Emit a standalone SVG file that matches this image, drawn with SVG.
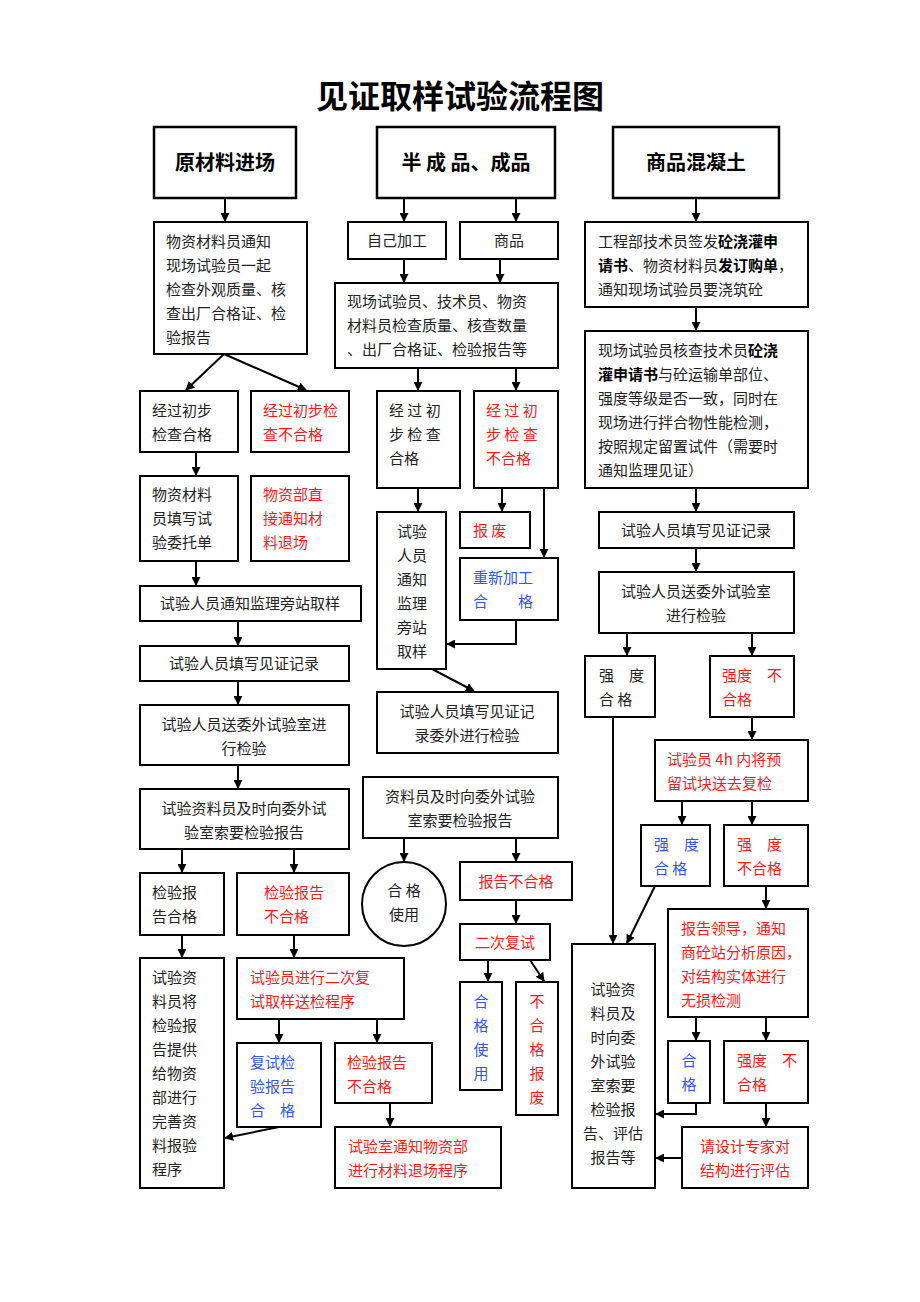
<svg xmlns="http://www.w3.org/2000/svg" width="920" height="1302" viewBox="0 0 920 1302">
<defs>
<marker id="ah" viewBox="0 0 10 10" refX="9" refY="5" markerWidth="9" markerHeight="9" markerUnits="userSpaceOnUse" orient="auto"><path d="M0,0L10,5L0,10z" fill="#000"/></marker>
<style>
rect{fill:#fff;stroke:#000;stroke-width:2}
.top{stroke-width:2.5}
text{font-family:"Noto Sans CJK SC","Noto Sans",sans-serif;font-size:15px;fill:#222}
.r{fill:#ff1a1a}.b{fill:#3355ee}
.h{font-size:20px;font-weight:bold;fill:#000}
.c line,.c path{stroke:#000;stroke-width:2;fill:none;marker-end:url(#ah)}
</style>
</defs>
<rect x="0" y="0" width="920" height="1302" style="fill:#fff;stroke:none"/>
<text x="460" y="108" text-anchor="middle" style="font-size:32px;font-weight:bold;fill:#000">见证取样试验流程图</text>

<g id="A"><rect class="top" x="154" y="127" width="142" height="71"/><text class="h" x="225" y="170" text-anchor="middle">原材料进场</text></g>
<g id="B"><rect class="top" x="377" y="127" width="178" height="71"/><text class="h" x="466" y="170" text-anchor="middle">半 成 品、成品</text></g>
<g id="C"><rect class="top" x="613" y="127" width="166" height="71"/><text class="h" x="696" y="170" text-anchor="middle">商品混凝土</text></g>

<g id="L1"><rect x="154" y="222" width="153" height="132"/><text x="166" y="247">物资材料员通知<tspan x="166" dy="24">现场试验员一起</tspan><tspan x="166" dy="24">检查外观质量、核</tspan><tspan x="166" dy="24">查出厂合格证、检</tspan><tspan x="166" dy="24">验报告</tspan></text></g>
<g id="L2a"><rect x="140" y="391" width="98" height="61"/><text x="152" y="416">经过初步<tspan x="152" dy="24">检查合格</tspan></text></g>
<g id="L2b"><rect x="251" y="391" width="98" height="61"/><text class="r" x="263" y="416">经过初步检<tspan x="263" dy="24">查不合格</tspan></text></g>
<g id="L3a"><rect x="140" y="476" width="98" height="85"/><text x="152" y="500">物资材料<tspan x="152" dy="24">员填写试</tspan><tspan x="152" dy="24">验委托单</tspan></text></g>
<g id="L3b"><rect x="251" y="476" width="98" height="85"/><text class="r" x="263" y="500">物资部直<tspan x="263" dy="24">接通知材</tspan><tspan x="263" dy="24">料退场</tspan></text></g>
<g id="L4"><rect x="140" y="586" width="221" height="35"/><text x="250" y="609" text-anchor="middle">试验人员通知监理旁站取样</text></g>
<g id="L5"><rect x="140" y="646" width="209" height="35"/><text x="244" y="669" text-anchor="middle">试验人员填写见证记录</text></g>
<g id="L6"><rect x="140" y="705" width="209" height="60"/><text x="244" y="730" text-anchor="middle">试验人员送委外试验室进<tspan x="244" dy="24">行检验</tspan></text></g>
<g id="L7"><rect x="140" y="789" width="209" height="60"/><text x="244" y="814" text-anchor="middle">试验资料员及时向委外试<tspan x="244" dy="24">验室索要检验报告</tspan></text></g>
<g id="L8a"><rect x="140" y="873" width="84" height="62"/><text x="152" y="898">检验报<tspan x="152" dy="24">告合格</tspan></text></g>
<g id="L8b"><rect x="237" y="873" width="112" height="62"/><text class="r" x="264" y="898">检验报告<tspan x="264" dy="24">不合格</tspan></text></g>
<g id="L9a"><rect x="140" y="958" width="84" height="230"/><text x="152" y="983">试验资<tspan x="152" dy="24">料员将</tspan><tspan x="152" dy="24">检验报</tspan><tspan x="152" dy="24">告提供</tspan><tspan x="152" dy="24">给物资</tspan><tspan x="152" dy="24">部进行</tspan><tspan x="152" dy="24">完善资</tspan><tspan x="152" dy="24">料报验</tspan><tspan x="152" dy="24">程序</tspan></text></g>
<g id="L9b"><rect x="237" y="958" width="167" height="61"/><text class="r" x="250" y="983">试验员进行二次复<tspan x="250" dy="24">试取样送检程序</tspan></text></g>
<g id="L10a"><rect x="237" y="1043" width="84" height="84"/><text class="b" x="250" y="1068">复试检<tspan x="250" dy="24">验报告</tspan><tspan x="250" dy="24">合　格</tspan></text></g>
<g id="L10b"><rect x="335" y="1043" width="97" height="60"/><text class="r" x="347" y="1068">检验报告<tspan x="347" dy="24">不合格</tspan></text></g>
<g id="L11"><rect x="335" y="1127" width="166" height="61"/><text class="r" x="348" y="1152">试验室通知物资部<tspan x="348" dy="24">进行材料退场程序</tspan></text></g>

<g id="M1a"><rect x="348" y="222" width="98" height="37"/><text x="397" y="246" text-anchor="middle">自己加工</text></g>
<g id="M1b"><rect x="460" y="222" width="98" height="37"/><text x="509" y="246" text-anchor="middle">商品</text></g>
<g id="M2"><rect x="335" y="283" width="223" height="85"/><text x="347" y="307">现场试验员、技术员、物资<tspan x="347" dy="24">材料员检查质量、核查数量</tspan><tspan x="347" dy="24">、出厂合格证、检验报告等</tspan></text></g>
<g id="M3a"><rect x="377" y="391" width="83" height="97"/><text x="389" y="416">经 过 初<tspan x="389" dy="24">步 检 查</tspan><tspan x="389" dy="24">合格</tspan></text></g>
<g id="M3b"><rect x="474" y="391" width="84" height="97"/><text class="r" x="486" y="416">经 过 初<tspan x="486" dy="24">步 检 查</tspan><tspan x="486" dy="24">不合格</tspan></text></g>
<g id="M4a"><rect x="377" y="512" width="69" height="157"/><text x="397" y="537">试验<tspan x="397" dy="24">人员</tspan><tspan x="397" dy="24">通知</tspan><tspan x="397" dy="24">监理</tspan><tspan x="397" dy="24">旁站</tspan><tspan x="397" dy="24">取样</tspan></text></g>
<g id="M4b"><rect x="460" y="512" width="70" height="36"/><text class="r" x="473" y="536">报 废</text></g>
<g id="M5"><rect x="460" y="558" width="98" height="62"/><text class="b" x="473" y="583">重新加工<tspan x="473" dy="24">合　　格</tspan></text></g>
<g id="M6"><rect x="377" y="692" width="181" height="61"/><text x="467" y="717" text-anchor="middle">试验人员填写见证记<tspan x="467" dy="24">录委外进行检验</tspan></text></g>
<g id="M7"><rect x="363" y="777" width="195" height="61"/><text x="460" y="802" text-anchor="middle">资料员及时向委外试验<tspan x="460" dy="24">室索要检验报告</tspan></text></g>
<g id="M8"><circle cx="404" cy="904" r="42" fill="#fff" stroke="#000" stroke-width="2"/><text x="404" y="896" text-anchor="middle">合 格<tspan x="404" dy="24">使用</tspan></text></g>
<g id="M9"><rect x="460" y="862" width="112" height="38"/><text class="r" x="516" y="887" text-anchor="middle">报告不合格</text></g>
<g id="M10"><rect x="460" y="924" width="90" height="36"/><text class="r" x="505" y="948" text-anchor="middle">二次复试</text></g>
<g id="M11a"><rect x="460" y="982" width="42" height="108"/><text class="b" x="481" y="1007" text-anchor="middle">合<tspan x="481" dy="24">格</tspan><tspan x="481" dy="24">使</tspan><tspan x="481" dy="24">用</tspan></text></g>
<g id="M11b"><rect x="516" y="982" width="42" height="133"/><text class="r" x="537" y="1007" text-anchor="middle">不<tspan x="537" dy="24">合</tspan><tspan x="537" dy="24">格</tspan><tspan x="537" dy="24">报</tspan><tspan x="537" dy="24">废</tspan></text></g>

<g id="R1"><rect x="585" y="222" width="223" height="85"/><text x="598" y="247">工程部技术员签发<tspan font-weight="bold" fill="#000">砼浇灌申</tspan><tspan x="598" dy="24" font-weight="bold" fill="#000">请书</tspan>、物资材料员<tspan font-weight="bold" fill="#000">发订购单</tspan>，<tspan x="598" dy="24">通知现场试验员要浇筑砼</tspan></text></g>
<g id="R2"><rect x="585" y="331" width="223" height="157"/><text x="598" y="356">现场试验员核查技术员<tspan font-weight="bold" fill="#000">砼浇</tspan><tspan x="598" dy="24" font-weight="bold" fill="#000">灌申请书</tspan>与砼运输单部位、<tspan x="598" dy="24">强度等级是否一致，同时在</tspan><tspan x="598" dy="24">现场进行拌合物性能检测，</tspan><tspan x="598" dy="24">按照规定留置试件（需要时</tspan><tspan x="598" dy="24">通知监理见证）</tspan></text></g>
<g id="R3"><rect x="599" y="512" width="195" height="36"/><text x="696" y="536" text-anchor="middle">试验人员填写见证记录</text></g>
<g id="R4"><rect x="599" y="572" width="195" height="61"/><text x="696" y="597" text-anchor="middle">试验人员送委外试验室<tspan x="696" dy="24">进行检验</tspan></text></g>
<g id="R5a"><rect x="585" y="656" width="70" height="61"/><text x="599" y="681">强　度<tspan x="599" dy="24">合 格</tspan></text></g>
<g id="R5b"><rect x="710" y="656" width="84" height="61"/><text class="r" x="722" y="681">强度　不<tspan x="722" dy="24">合格</tspan></text></g>
<g id="R6"><rect x="655" y="740" width="153" height="61"/><text class="r" x="667" y="765">试验员 4h 内将预<tspan x="667" dy="24">留试块送去复检</tspan></text></g>
<g id="R7a"><rect x="641" y="825" width="69" height="61"/><text class="b" x="654" y="850">强　度<tspan x="654" dy="24">合 格</tspan></text></g>
<g id="R7b"><rect x="724" y="825" width="84" height="61"/><text class="r" x="737" y="850">强　度<tspan x="737" dy="24">不合格</tspan></text></g>
<g id="R8"><rect x="668" y="909" width="140" height="108"/><text class="r" x="681" y="934">报告领导，通知<tspan x="681" dy="24">商砼站分析原因，</tspan><tspan x="681" dy="24">对结构实体进行</tspan><tspan x="681" dy="24">无损检测</tspan></text></g>
<g id="R9"><rect x="572" y="944" width="83" height="244"/><text x="613" y="995" text-anchor="middle">试验资<tspan x="613" dy="24">料员及</tspan><tspan x="613" dy="24">时向委</tspan><tspan x="613" dy="24">外试验</tspan><tspan x="613" dy="24">室索要</tspan><tspan x="613" dy="24">检验报</tspan><tspan x="613" dy="24">告、评估</tspan><tspan x="613" dy="24">报告等</tspan></text></g>
<g id="R10a"><rect x="668" y="1041" width="42" height="62"/><text class="b" x="689" y="1066" text-anchor="middle">合<tspan x="689" dy="24">格</tspan></text></g>
<g id="R10b"><rect x="724" y="1041" width="84" height="62"/><text class="r" x="737" y="1066">强度　不<tspan x="737" dy="24">合格</tspan></text></g>
<g id="R11"><rect x="682" y="1127" width="126" height="61"/><text class="r" x="745" y="1152" text-anchor="middle">请设计专家对<tspan x="745" dy="24">结构进行评估</tspan></text></g>

<g class="c" id="connectors">
<line x1="225" y1="198" x2="225" y2="221"/>
<line x1="404" y1="198" x2="404" y2="221"/>
<line x1="516" y1="198" x2="516" y2="221"/>
<line x1="696" y1="198" x2="696" y2="221"/>
<line x1="224" y1="354" x2="186" y2="390"/>
<line x1="224" y1="354" x2="306" y2="390"/>
<line x1="196" y1="452" x2="196" y2="475"/>
<line x1="196" y1="561" x2="196" y2="585"/>
<line x1="238" y1="621" x2="238" y2="645"/>
<line x1="238" y1="681" x2="238" y2="704"/>
<line x1="238" y1="765" x2="238" y2="788"/>
<line x1="182" y1="849" x2="182" y2="872"/>
<line x1="294" y1="849" x2="294" y2="872"/>
<line x1="182" y1="935" x2="182" y2="957"/>
<line x1="294" y1="935" x2="294" y2="957"/>
<line x1="279" y1="1019" x2="279" y2="1042"/>
<line x1="377" y1="1019" x2="377" y2="1042"/>
<line x1="279" y1="1127" x2="225" y2="1138"/>
<line x1="390" y1="1103" x2="390" y2="1126"/>
<line x1="404" y1="259" x2="404" y2="282"/>
<line x1="500" y1="259" x2="500" y2="282"/>
<line x1="418" y1="368" x2="418" y2="390"/>
<line x1="516" y1="368" x2="516" y2="390"/>
<line x1="418" y1="488" x2="418" y2="511"/>
<line x1="502" y1="488" x2="502" y2="511"/>
<line x1="544" y1="488" x2="544" y2="557"/>
<path d="M516,620V644H447"/>
<line x1="432" y1="669" x2="474" y2="691"/>
<line x1="404" y1="838" x2="404" y2="861"/>
<line x1="516" y1="838" x2="516" y2="861"/>
<line x1="516" y1="900" x2="516" y2="923"/>
<line x1="488" y1="960" x2="488" y2="981"/>
<line x1="530" y1="960" x2="544" y2="981"/>
<line x1="696" y1="307" x2="696" y2="330"/>
<line x1="696" y1="488" x2="696" y2="511"/>
<line x1="696" y1="548" x2="696" y2="571"/>
<line x1="627" y1="633" x2="627" y2="655"/>
<line x1="752" y1="633" x2="752" y2="655"/>
<line x1="613" y1="717" x2="613" y2="943"/>
<line x1="752" y1="717" x2="752" y2="739"/>
<line x1="682" y1="801" x2="682" y2="824"/>
<line x1="752" y1="801" x2="752" y2="824"/>
<line x1="655" y1="886" x2="627" y2="943"/>
<line x1="766" y1="886" x2="766" y2="908"/>
<line x1="696" y1="1017" x2="696" y2="1040"/>
<line x1="766" y1="1017" x2="766" y2="1040"/>
<path d="M696,1103V1114H656"/>
<line x1="766" y1="1103" x2="766" y2="1126"/>
<line x1="682" y1="1158" x2="656" y2="1158"/>
</g>
</svg>
